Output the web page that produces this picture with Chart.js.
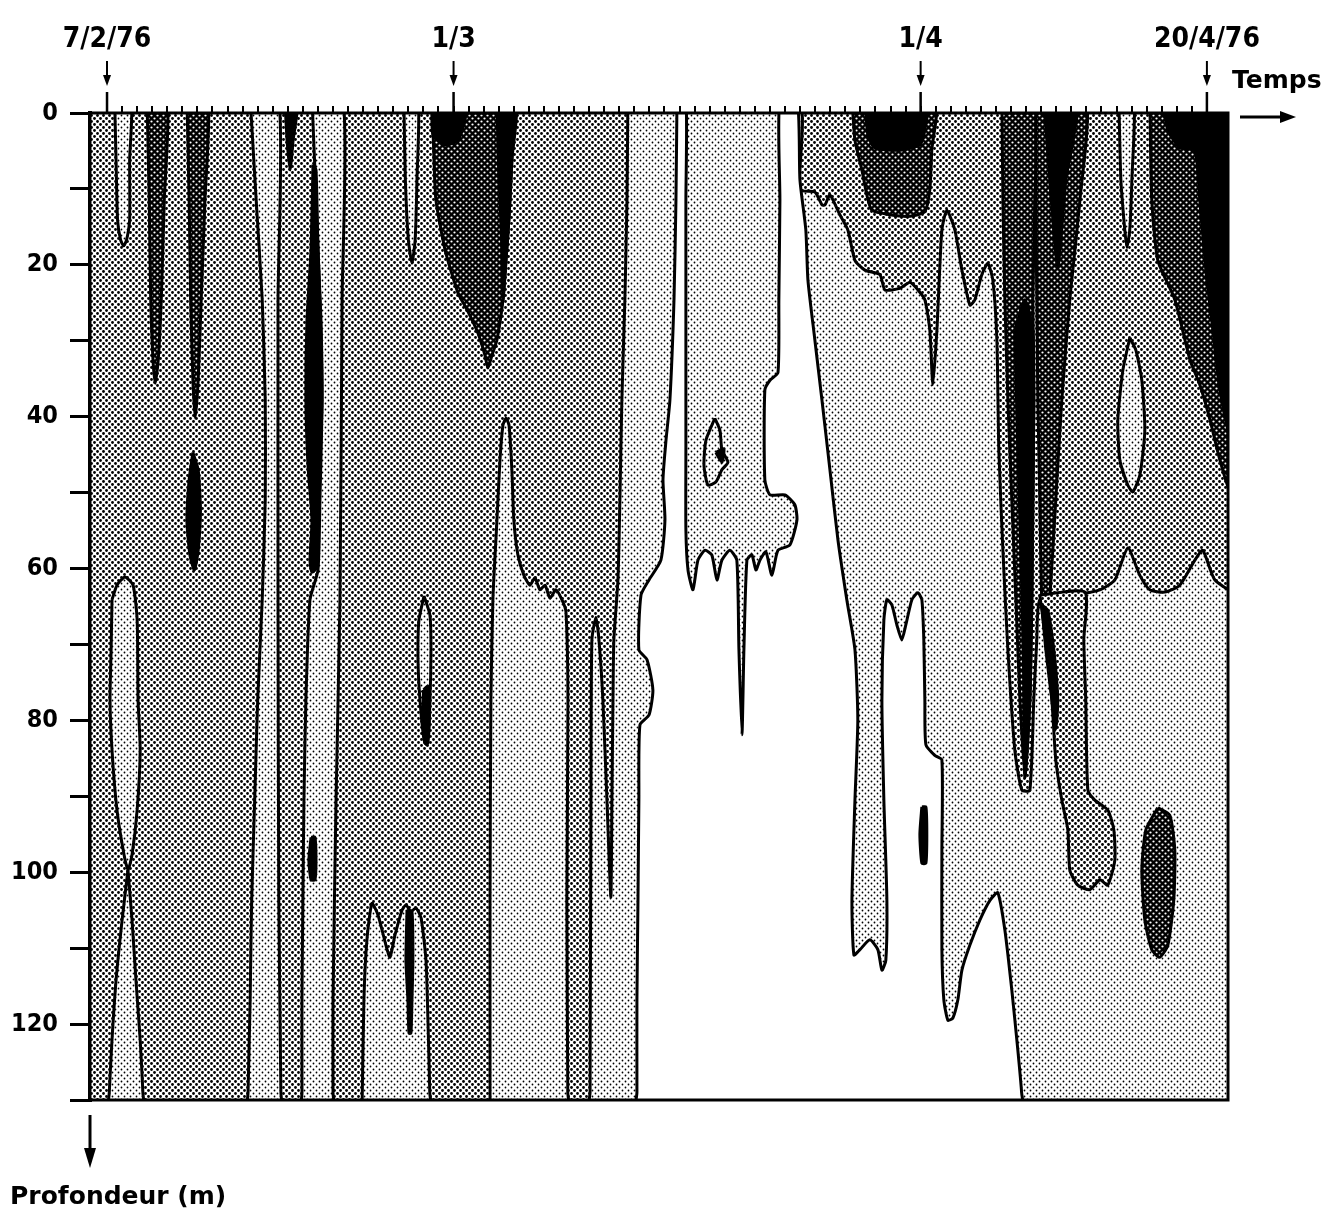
<!DOCTYPE html>
<html lang="fr">
<head>
<meta charset="utf-8">
<title>Coupe temps - profondeur</title>
<script src="https://cdn.jsdelivr.net/npm/chart.js@4.4.0/dist/chart.umd.min.js"></script>
<style>
  html, body { margin: 0; padding: 0; background: #fff; }
  canvas { display: block; }
</style>
</head>
<body>
<canvas id="coupe" width="1328" height="1218"></canvas>
<script>
// Axe du temps : jours comptés depuis le 7/2/76
const joursMin = -1.13;
const joursMax = 74.4;
const dateJours = [0, 23, 54, 73];
const dateTextes = ['7/2/76', '1/3', '1/4', '20/4/76'];

// Axe des profondeurs (m)
const profondeurTicks = [0, 10, 20, 30, 40, 50, 60, 70, 80, 90, 100, 110, 120, 130];
const profondeurTextes = [0, 20, 40, 60, 80, 100, 120];

// Contours : [jour, profondeur]
const fond = [[-3, -3], [78, -3], [78, 133], [-3, 133]];

const languette1 = [[0.5, -2], [0.6, 6.2], [0.7, 14.1], [0.9, 16.7], [1.1, 17.5], [1.3, 16.7], [1.5, 14.1], [1.5, 6.2], [1.6, -2]];
const lentille1 = [[0.33, 64.1], [0.27, 70.7], [0.2, 77.3], [0.33, 83.9], [0.66, 91.8], [1.13, 97.7], [1.39, 99.7], [1.66, 97.7], [2.0, 91.8], [2.2, 83.9], [2.06, 77.3], [2.0, 66.8], [1.73, 62.2], [1.19, 61.1], [0.66, 62.2]];
const coin1 = [[1.39, 99.7], [1.0, 106.3], [0.6, 114.2], [0.33, 122.1], [0.15, 129], [0.13, 132], [2.4, 132], [2.38, 129], [2.2, 122.1], [1.92, 114.2], [1.66, 106.3]];
const trainee1 = [[2.65, -2], [2.8, 11.5], [2.9, 24.6], [3.05, 32.5], [3.2, 35.6], [3.4, 32.5], [3.6, 24.6], [3.8, 11.5], [4.0, -2]];
const trainee2 = [[5.3, -2], [5.45, 11.5], [5.55, 24.6], [5.7, 35.2], [5.85, 40.2], [6.05, 35.2], [6.25, 24.6], [6.5, 11.5], [6.7, -2]];
const noyau1 = [[5.7, 44.7], [5.45, 48.3], [5.3, 53.6], [5.5, 58.2], [5.8, 60.2], [6.05, 57.6], [6.2, 52.3], [6.05, 47.0]];

const bande1 = [[9.5, -2], [9.9, 11.5], [10.3, 24.6], [10.5, 37.8], [10.5, 51.0], [10.3, 64.1], [10.0, 77.3], [9.8, 90.5], [9.6, 103.7], [9.5, 116.8], [9.36, 129], [9.35, 132], [11.55, 132], [11.54, 129], [11.4, 103.7], [11.35, 64.1], [11.35, 24.6], [11.4, -2]];
const bande2 = [[13.6, -2], [13.8, 7.5], [14.13, 24.6], [14.27, 37.8], [14.13, 51.0], [14.0, 60.2], [13.47, 64.1], [13.2, 77.3], [13.07, 90.5], [13.0, 103.7], [12.94, 116.8], [12.94, 129], [12.94, 132], [15.0, 132], [15.0, 129], [15.0, 116.8], [15.2, 90.5], [15.46, 64.1], [15.6, 24.6], [15.66, -2]];
const filet1 = [[13.67, 6.8], [13.87, 7.5], [14.0, 18.0], [14.2, 27.3], [14.27, 37.8], [14.13, 46.5], [14.0, 53.6], [13.94, 59.8], [13.6, 60.5], [13.47, 58.9], [13.6, 53.6], [13.34, 46.5], [13.2, 37.8], [13.27, 27.3], [13.54, 18.0]];
const pointe1 = [[11.8, -2], [11.95, 3.6], [12.15, 7.5], [12.35, 3.6], [12.67, -2]];
const tiret1 = [[13.54, 95.4], [13.4, 98.4], [13.54, 101.0], [13.8, 101.0], [13.87, 98.4], [13.8, 95.4]];

const languette2 = [[19.7, -2], [19.8, 8.8], [20.0, 16.7], [20.24, 19.8], [20.45, 16.7], [20.57, 8.8], [20.64, -2]];
const lentille2 = [[21.04, 63.6], [20.7, 66.8], [20.64, 72.0], [20.77, 77.3], [21.04, 82.6], [21.23, 83.2], [21.43, 77.3], [21.5, 70.7], [21.43, 66.1]];
const lentille2Noir = [[21.0, 76.0], [21.0, 80.0], [21.1, 83.0], [21.3, 83.0], [21.42, 77.3], [21.3, 75.5]];
const massifM = [[16.92, 132], [17.05, 116.8], [17.25, 108.9], [17.58, 104.1], [17.98, 105.6], [18.51, 109.6], [18.78, 111.2], [19.11, 108.3], [19.58, 105.0], [19.84, 104.3], [20.17, 105.2], [20.5, 104.7], [20.84, 106.0], [21.17, 111.6], [21.3, 119.5], [21.42, 129], [21.43, 132]];
const pointeM = [[19.91, 105.0], [19.84, 111.6], [19.97, 116.8], [20.04, 121.2], [20.17, 121.2], [20.24, 116.8], [20.3, 111.6], [20.24, 105.2]];

const sombre1 = [[21.57, -2], [21.7, 6.2], [21.83, 11.5], [22.43, 18.0], [23.29, 23.7], [23.89, 25.9], [24.62, 29.0], [25.08, 31.9], [25.28, 33.6], [25.55, 31.9], [25.88, 29.9], [26.28, 24.6], [26.48, 19.4], [26.67, 14.1], [26.87, 6.2], [27.0, -2]];
const sombre1NoirA = [[21.57, -2], [21.63, 2.9], [22.43, 4.2], [23.29, 3.6], [23.76, 0.9], [23.82, -2]];
const sombre1NoirB = [[25.88, -2], [25.95, 4.9], [26.08, 11.5], [26.21, 18.0], [26.28, 24.6], [26.48, 19.4], [26.67, 14.1], [26.87, 6.2], [27.0, -2]];
const langue3 = [[25.42, 132], [25.42, 129], [25.42, 103.7], [25.48, 77.3], [25.61, 64.1], [25.88, 53.6], [26.08, 45.7], [26.28, 41.1], [26.48, 40.2], [26.68, 41.1], [26.87, 47.0], [27.0, 53.6], [27.27, 58.2], [27.67, 60.9], [28.07, 62.2], [28.4, 61.2], [28.73, 62.8], [29.07, 62.2], [29.4, 63.9], [29.79, 62.8], [30.19, 64.1], [30.46, 65.7], [30.59, 77.3], [30.52, 103.7], [30.58, 129], [30.59, 132]];

const clairCentre = [[34.57, -2], [34.51, 11.5], [34.37, 24.6], [34.17, 37.8], [34.04, 51.0], [33.91, 61.5], [33.64, 69.4], [33.58, 77.3], [33.51, 90.5], [33.44, 103.3], [33.18, 90.5], [32.91, 77.3], [32.65, 69.4], [32.45, 66.4], [32.18, 69.4], [32.12, 90.5], [32.06, 129], [32.05, 132], [76, 132], [76, 65.5], [73.53, 61.5], [72.73, 57.6], [72.2, 58.9], [71.2, 62.2], [70.21, 63.1], [69.21, 62.8], [68.55, 60.9], [67.75, 57.3], [66.89, 61.5], [65.9, 62.8], [64.24, 63.5], [63.24, 63.9], [61.91, 64.1], [61.71, 69.4], [61.51, 77.3], [61.25, 89.2], [60.72, 89.2], [60.25, 83.9], [59.79, 70.7], [59.46, 57.6], [59.19, 44.4], [59.06, 29.9], [58.79, 22.0], [58.46, 19.8], [58.06, 21.3], [57.6, 24.6], [57.27, 25.3], [56.74, 20.7], [56.27, 15.4], [55.74, 12.8], [55.41, 15.4], [55.08, 28.6], [54.81, 35.8], [54.61, 28.6], [54.28, 24.6], [53.82, 23.3], [53.29, 22.3], [52.62, 23.1], [51.63, 23.3], [51.3, 21.3], [50.3, 20.7], [49.64, 19.4], [49.17, 15.4], [48.64, 13.4], [47.98, 10.8], [47.65, 12.1], [47.45, 12.1], [46.98, 10.4], [45.99, 10.1], [45.79, -2]];
const blancCentre = [[37.83, -2], [37.76, 11.5], [37.63, 24.6], [37.36, 37.8], [37.1, 43.1], [36.9, 48.3], [37.03, 53.6], [36.76, 58.9], [35.97, 61.5], [35.44, 63.5], [35.3, 70.7], [35.84, 72.0], [36.23, 76.0], [35.97, 79.3], [35.37, 80.6], [35.3, 90.5], [35.24, 103.7], [35.17, 116.8], [35.17, 129], [35.17, 132], [60.72, 132], [60.7, 129], [60.45, 123.4], [60.05, 115.5], [59.59, 107.6], [59.12, 102.7], [58.6, 103.7], [57.93, 106.3], [57.27, 109.6], [56.74, 112.9], [56.47, 116.8], [56.14, 119.2], [55.81, 119.5], [55.54, 116.8], [55.41, 110.2], [55.41, 97.1], [55.41, 85.2], [54.94, 84.6], [54.35, 83.2], [54.28, 77.3], [54.21, 69.4], [54.08, 64.1], [53.82, 63.2], [53.42, 64.1], [53.02, 67.4], [52.75, 69.4], [52.42, 67.4], [52.09, 64.8], [51.76, 64.1], [51.56, 66.8], [51.43, 77.3], [51.56, 90.5], [51.76, 103.7], [51.69, 111.6], [51.43, 112.9], [51.16, 110.2], [50.63, 108.9], [49.97, 110.2], [49.57, 110.9], [49.44, 103.7], [49.64, 90.5], [49.83, 79.9], [49.64, 70.7], [49.1, 64.1], [48.51, 56.2], [47.98, 47.0], [47.45, 37.8], [46.98, 29.9], [46.52, 22.0], [46.38, 15.4], [45.99, 8.8], [45.79, -2], [44.66, -2], [44.66, 11.5], [44.59, 24.6], [44.53, 34.2], [44.0, 35.2], [43.66, 36.5], [43.66, 48.3], [44.0, 50.3], [44.99, 50.3], [45.65, 51.6], [45.79, 53.6], [45.32, 56.9], [44.53, 57.6], [44.13, 60.9], [43.73, 57.8], [43.33, 58.9], [43.07, 60.2], [42.8, 58.2], [42.47, 58.9], [42.27, 70.7], [42.14, 81.9], [41.94, 70.7], [41.8, 58.9], [41.34, 57.6], [40.81, 58.9], [40.48, 61.5], [40.14, 58.2], [39.68, 57.6], [39.22, 58.9], [38.89, 62.8], [38.56, 60.2], [38.42, 54.9], [38.42, 44.4], [38.42, 24.6], [38.42, 11.5], [38.42, -2]];
const ilot = [[40.34, 40.2], [39.75, 43.1], [39.62, 46.4], [39.88, 49.0], [40.41, 48.6], [40.81, 47.0], [41.21, 46.0], [40.81, 44.4], [40.68, 41.8]];
const ilotNoir = [[40.41, 44.7], [40.94, 44.2], [40.81, 46.0]];

const sombre2 = [[49.44, -2], [49.64, 3.6], [50.1, 7.5], [50.43, 10.8], [50.76, 12.8], [51.96, 13.4], [53.29, 13.6], [54.28, 13.0], [54.61, 10.1], [54.74, 4.9], [54.94, -2]];
const sombre2Noir = [[50.3, -2], [50.5, 2.9], [50.96, 4.6], [52.62, 4.9], [53.95, 4.2], [54.28, 2.2], [54.41, -2]];
const bandeSombre = [[59.39, -2], [59.46, 11.5], [59.59, 24.6], [59.79, 37.8], [60.05, 51.0], [60.32, 64.1], [60.59, 77.3], [60.92, 87.5], [61.25, 77.3], [61.38, 64.1], [61.45, 51.0], [61.51, 37.8], [61.45, 24.6], [61.58, 11.5], [61.65, -2]];
const bandeSombreNoir = [[60.25, 28.6], [60.45, 44.4], [60.65, 57.6], [60.85, 74.7], [60.92, 87.5], [61.25, 77.3], [61.38, 64.1], [61.45, 51.0], [61.51, 37.8], [61.45, 28.6], [60.92, 24.6]];
const sombre3 = [[61.65, -2], [61.65, 11.5], [61.71, 24.6], [61.78, 37.8], [61.91, 51.0], [62.04, 64.1], [62.31, 69.4], [62.57, 64.1], [62.97, 51.0], [63.37, 37.8], [63.9, 24.6], [64.57, 11.5], [64.96, -2]];
const sombre3Noir = [[62.18, -2], [62.57, 8.8], [63.1, 20.3], [63.64, 8.8], [64.43, -2]];

const languette4 = [[67.15, -2], [67.29, 8.8], [67.55, 15.4], [67.69, 17.7], [67.88, 15.4], [68.02, 8.8], [68.15, -2]];
const lentille4 = [[67.88, 29.6], [67.42, 33.9], [67.09, 40.4], [67.22, 45.7], [67.75, 49.0], [68.08, 49.9], [68.55, 47.7], [68.88, 41.8], [68.68, 35.2], [68.28, 31.2]];
const sombre4 = [[69.21, -2], [69.34, 11.5], [69.74, 19.4], [70.87, 24.6], [71.87, 32.5], [72.53, 35.8], [73.2, 40.4], [73.86, 45.7], [74.65, 50.3], [76, 51], [76, -2]];
const sombre4Noir = [[70.0, -2], [70.4, 2.2], [71.2, 4.6], [72.2, 4.9], [72.53, 11.5], [72.93, 20.7], [73.4, 28.6], [73.86, 36.5], [74.65, 43.1], [76, 43], [76, -2]];

const colonne = [[61.91, 63.5], [62.31, 69.4], [62.71, 77.3], [62.97, 85.2], [63.37, 90.5], [63.77, 94.4], [63.9, 99.7], [64.43, 101.7], [65.23, 102.3], [65.9, 101.0], [66.42, 101.7], [66.89, 98.4], [66.82, 94.4], [66.42, 91.8], [65.56, 90.5], [65.1, 89.2], [64.96, 77.3], [64.83, 69.4], [64.9, 63.1]];
const colonneNoir = [[62.04, 64.8], [62.31, 70.7], [62.71, 77.3], [62.97, 81.2], [63.1, 77.3], [62.84, 70.7], [62.44, 65.5]];
const ovale = [[69.74, 91.5], [68.95, 94.4], [68.68, 99.7], [68.88, 106.3], [69.34, 110.2], [69.87, 111.2], [70.41, 109.6], [70.8, 103.7], [70.87, 97.1], [70.54, 92.5]];
const tiret2 = [[54.08, 91.4], [53.95, 95.0], [54.08, 98.8], [54.35, 98.8], [54.41, 95.0], [54.35, 91.4]];

// Ordre de peinture et niveau (0 blanc ... 4 noir)
const couches = [
    [fond, 2],
    [languette1, 1], [lentille1, 1], [coin1, 1],
    [trainee1, 3], [trainee2, 3], [noyau1, 4],
    [bande1, 1], [bande2, 1], [filet1, 4], [pointe1, 4], [tiret1, 4],
    [languette2, 1], [lentille2, 1], [lentille2Noir, 4], [massifM, 1], [pointeM, 4],
    [sombre1, 3], [sombre1NoirA, 4], [sombre1NoirB, 4],
    [langue3, 1],
    [clairCentre, 1], [blancCentre, 0], [ilot, 1], [ilotNoir, 4],
    [sombre2, 3], [sombre2Noir, 4],
    [bandeSombre, 3], [bandeSombreNoir, 4], [sombre3, 3], [sombre3Noir, 4],
    [languette4, 1], [lentille4, 1], [sombre4, 3], [sombre4Noir, 4],
    [colonne, 2], [colonneNoir, 4], [ovale, 3], [tiret2, 4]
];

const canvas = document.getElementById('coupe');
const ctx = canvas.getContext('2d');

// Trames pointillées
const motif = (fondCouleur, encre, rayon) => {
    const tuile = document.createElement('canvas');
    tuile.width = tuile.height = 6;
    const t = tuile.getContext('2d');
    t.fillStyle = fondCouleur;
    t.fillRect(0, 0, 6, 6);
    t.fillStyle = encre;
    [[1.5, 1.5], [4.5, 4.5]].forEach(([cx, cy]) => {
        t.beginPath();
        t.arc(cx, cy, rayon, 0, Math.PI * 2);
        t.fill();
    });
    return ctx.createPattern(tuile, 'repeat');
};

const remplissages = [
    '#ffffff',
    motif('#ffffff', '#000000', 0.9),
    motif('#ffffff', '#000000', 1.4),
    motif('#000000', '#ffffff', 1.1),
    '#000000'
];

const joursTicks = [];
for (let j = dateJours[0]; j <= dateJours[dateJours.length - 1]; j++) joursTicks.push(j);

const datasets = couches.map(([contour, niveau], i) => ({
    data: [...contour, contour[0]].map(([jour, prof]) => ({ x: jour, y: prof })),
    fill: 'shape',
    backgroundColor: remplissages[niveau],
    borderColor: i === 0 ? 'rgba(0,0,0,0)' : '#000',
    borderWidth: 3,
    pointRadius: 0,
    tension: 0.2,
    clip: 0,
    order: couches.length - i
}));

const policeEtroite = "'Liberation Sans Narrow', 'DejaVu Sans Condensed', 'Liberation Sans', sans-serif";

// Flèches, repères de dates, cadre et titres d'axes
const habillage = {
    id: 'habillage',
    afterDraw(chart) {
        const { ctx, chartArea: zone, scales: { x } } = chart;
        const trait = (x1, y1, x2, y2, w) => {
            ctx.lineWidth = w;
            ctx.beginPath();
            ctx.moveTo(x1, y1);
            ctx.lineTo(x2, y2);
            ctx.stroke();
        };
        const pointe = (px, py, dx, dy, long, larg) => {
            ctx.beginPath();
            ctx.moveTo(px, py);
            ctx.lineTo(px - dx * long - dy * larg, py - dy * long + dx * larg);
            ctx.lineTo(px - dx * long + dy * larg, py - dy * long - dx * larg);
            ctx.closePath();
            ctx.fill();
        };
        ctx.save();
        ctx.strokeStyle = '#000';
        ctx.fillStyle = '#000';
        ctx.lineWidth = 3;
        ctx.strokeRect(zone.left, zone.top, zone.right - zone.left, zone.bottom - zone.top);

        dateJours.forEach(j => {
            const px = x.getPixelForValue(j);
            trait(px, zone.top - 21, px, zone.top, 2.5);
            trait(px, zone.top - 52, px, zone.top - 36, 2);
            pointe(px, zone.top - 27, 0, 1, 11, 4);
        });

        ctx.font = "bold 25px 'DejaVu Sans', sans-serif";
        ctx.textAlign = 'left';
        ctx.textBaseline = 'alphabetic';
        ctx.fillText('Temps', zone.right + 4, zone.top - 25);
        trait(zone.right + 12, zone.top + 4, zone.right + 54, zone.top + 4, 3);
        pointe(zone.right + 68, zone.top + 4, 1, 0, 16, 6);

        trait(zone.left, zone.bottom + 15, zone.left, zone.bottom + 52, 3);
        pointe(zone.left, zone.bottom + 68, 0, 1, 20, 6);
        ctx.font = "bold 25px 'DejaVu Sans', sans-serif";
        ctx.fillText('Profondeur (m)', 10, zone.bottom + 104);
        ctx.restore();
    }
};

new Chart(ctx, {
    type: 'line',
    data: { datasets },
    options: {
        responsive: false,
        animation: false,
        events: [],
        layout: { padding: { left: 0, top: 0, right: 100, bottom: 118 } },
        plugins: {
            legend: { display: false },
            tooltip: { enabled: false }
        },
        scales: {
            x: {
                type: 'linear',
                position: 'top',
                min: joursMin,
                max: joursMax,
                afterBuildTicks: axe => { axe.ticks = joursTicks.map(v => ({ value: v })); },
                afterFit: axe => { axe.height = 113; },
                grid: { drawOnChartArea: false, tickLength: 7, lineWidth: 2, color: '#000' },
                border: { color: '#000', width: 3 },
                ticks: {
                    autoSkip: false,
                    maxRotation: 0,
                    padding: 49,
                    color: '#000',
                    font: { family: policeEtroite, weight: 'bold', size: 28 },
                    callback: v => {
                        const i = dateJours.indexOf(v);
                        return i < 0 ? '' : dateTextes[i];
                    }
                }
            },
            y: {
                type: 'linear',
                reverse: true,
                min: 0,
                max: 130,
                afterBuildTicks: axe => { axe.ticks = profondeurTicks.map(v => ({ value: v })); },
                afterFit: axe => { axe.width = 90; },
                grid: { drawOnChartArea: false, tickLength: 20, lineWidth: 3, color: '#000' },
                border: { color: '#000', width: 4 },
                ticks: {
                    padding: 12,
                    color: '#000',
                    font: { family: policeEtroite, weight: 'bold', size: 25 },
                    callback: v => profondeurTextes.includes(v) ? String(v) : ''
                }
            }
        }
    },
    plugins: [habillage]
});
</script>
</body>
</html>
